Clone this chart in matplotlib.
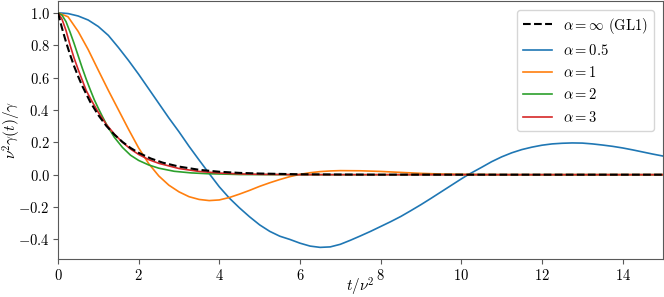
import numpy as np
import matplotlib
matplotlib.use("Agg")
import matplotlib.pyplot as plt

plt.rcParams['font.family'] = 'serif'
plt.rcParams['font.serif'] = ['cmr10', 'DejaVu Serif']
plt.rcParams['mathtext.fontset'] = 'cm'
plt.rcParams['axes.formatter.use_mathtext'] = True
plt.rcParams['font.size'] = 10.5

# values
t_gl1 = [0, 0.1, 0.2, 0.3, 0.4, 0.5, 0.6, 0.8, 1.0, 1.2, 1.4, 1.6, 1.8, 2.0, 2.3, 2.6, 3.0, 3.5, 4.0, 4.5, 5.0, 6.0, 7.0, 8.0, 15.0]
v_gl1 = [1.0, 0.905, 0.819, 0.741, 0.670, 0.607, 0.549, 0.449, 0.368, 0.301, 0.247, 0.202, 0.165, 0.135, 0.100, 0.074,
         0.050, 0.030, 0.018, 0.011, 0.007, 0.0025, 0.001, 0.0, 0.0]

t_a05 = [0, 0.25, 0.5, 0.75, 1.0, 1.25, 1.5, 1.75, 2.0, 2.25, 2.5, 2.75, 3.0, 3.25, 3.5, 3.77, 4.0, 4.25, 4.5, 4.75,
         5.0, 5.25, 5.5, 5.75, 6.0, 6.25, 6.5, 6.75, 7.0, 7.25, 7.5, 7.75, 8.0, 8.25, 8.5, 8.75, 9.0, 9.25, 9.5, 9.75,
         10.0, 10.17, 10.5, 10.75, 11.0, 11.25, 11.5, 11.75, 12.0, 12.25, 12.5, 12.75, 13.0, 13.25, 13.5, 13.75,
         14.0, 14.25, 14.5, 14.75, 15.0]
v_a05 = [1.0, 0.995, 0.98, 0.955, 0.915, 0.86, 0.785, 0.705, 0.62, 0.53, 0.44, 0.35, 0.265, 0.175, 0.09, 0.0, -0.075,
         -0.145, -0.205, -0.26, -0.31, -0.35, -0.38, -0.40, -0.423, -0.441, -0.449, -0.446, -0.43, -0.405, -0.378,
         -0.35, -0.32, -0.29, -0.258, -0.222, -0.185, -0.146, -0.106, -0.066, -0.026, 0.0, 0.045, 0.08, 0.11, 0.135,
         0.155, 0.17, 0.182, 0.19, 0.194, 0.196, 0.195, 0.19, 0.183, 0.175, 0.165, 0.153, 0.14, 0.127, 0.115]

t_a1 = [0, 0.25, 0.5, 0.75, 1.0, 1.25, 1.5, 1.75, 2.0, 2.25, 2.5, 2.75, 3.0, 3.25, 3.5, 3.75, 4.0, 4.25, 4.5, 4.75,
        5.0, 5.25, 5.5, 5.75, 6.0, 6.25, 6.5, 6.75, 7.0, 7.5, 8.0, 8.5, 9.0, 9.5, 10.0, 11.0, 15.0]
v_a1 = [1.0, 0.975, 0.885, 0.772, 0.645, 0.52, 0.40, 0.28, 0.165, 0.068, -0.008, -0.065, -0.106, -0.136, -0.153,
        -0.16, -0.156, -0.141, -0.12, -0.097, -0.072, -0.05, -0.03, -0.012, 0.002, 0.012, 0.019, 0.023, 0.025, 0.024,
        0.02, 0.014, 0.008, 0.004, 0.002, 0.0, 0.0]

t_a2 = [0, 0.1, 0.2, 0.3, 0.4, 0.5, 0.6, 0.7, 0.8, 0.9, 1.0, 1.1, 1.23, 1.4, 1.6, 1.8, 2.0, 2.25, 2.5, 2.88, 3.3,
        3.7, 4.5, 5.5, 15.0]
v_a2 = [1.0, 0.985, 0.945, 0.88, 0.81, 0.735, 0.66, 0.59, 0.525, 0.463, 0.41, 0.36, 0.298, 0.23, 0.168, 0.12, 0.088,
        0.06, 0.04, 0.021, 0.011, 0.006, 0.001, 0.0, 0.0]

t_a3 = [0, 0.1, 0.2, 0.3, 0.4, 0.5, 0.6, 0.7, 0.82, 1.0, 1.2, 1.4, 1.6, 1.8, 2.0, 2.25, 2.5, 3.0, 3.5, 4.0, 4.5,
        5.0, 6.0, 15.0]
v_a3 = [1.0, 0.96, 0.89, 0.80, 0.72, 0.65, 0.585, 0.52, 0.463, 0.385, 0.31, 0.25, 0.20, 0.158, 0.125, 0.093, 0.07,
        0.038, 0.02, 0.01, 0.005, 0.002, 0.0, 0.0]

fig = plt.figure(figsize=(6.64, 2.97), dpi=100)
ax = fig.add_axes([0.0873, 0.127, 0.9112, 0.8696])

ax.plot(t_gl1, v_gl1, 'k--', lw=1.5, label=r'$\alpha=\infty$ (GL1)', zorder=3)
ax.plot(t_a05, v_a05, color='C0', lw=1.2, label=r'$\alpha=0.5$')
ax.plot(t_a1, v_a1, color='C1', lw=1.2, label=r'$\alpha=1$')
ax.plot(t_a2, v_a2, color='C2', lw=1.2, label=r'$\alpha=2$')
ax.plot(t_a3, v_a3, color='C3', lw=1.2, label=r'$\alpha=3$')

ax.set_xlim(0, 15)
ax.set_ylim(-0.5225, 1.0725)
ax.set_xticks([0, 2, 4, 6, 8, 10, 12, 14])
ax.set_yticks([-0.4, -0.2, 0.0, 0.2, 0.4, 0.6, 0.8, 1.0])
ax.set_xlabel(r'$t/\nu^2$', fontsize=11)
ax.set_ylabel(r'$\nu^2\gamma(t)/\gamma$', fontsize=11)
ax.xaxis.set_label_coords(0.5, -0.066)
ax.yaxis.set_label_coords(-0.058, 0.5)
for s in ax.spines.values():
    s.set_color('0.35')
ax.tick_params(color='0.35', pad=2.5)
ax.legend(loc='upper right', fontsize=10.5, borderaxespad=0.6)

fig.savefig('out.png', dpi=100)
